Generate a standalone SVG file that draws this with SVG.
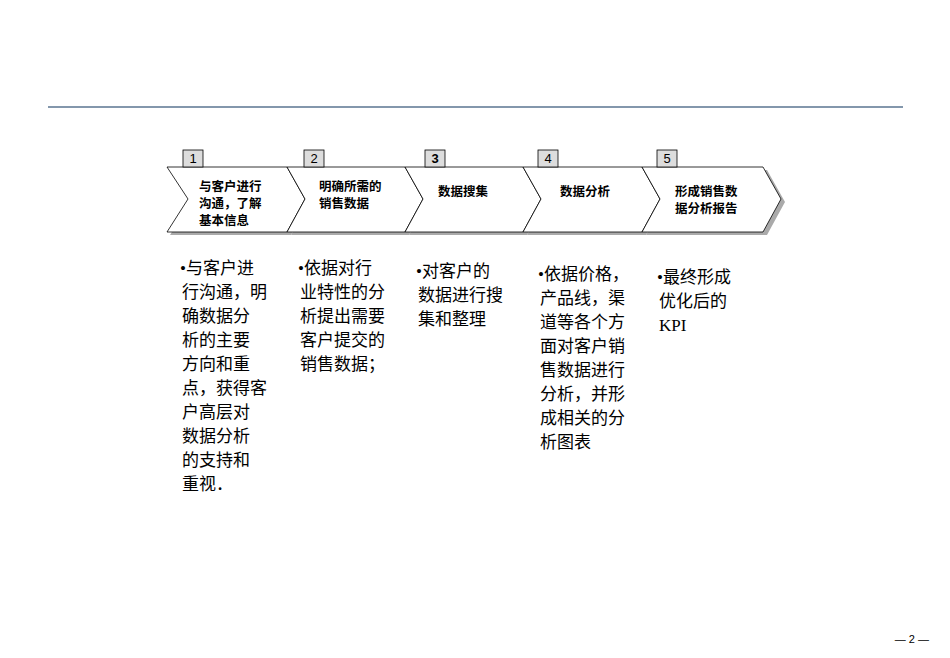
<svg xmlns="http://www.w3.org/2000/svg" width="950" height="658" viewBox="0 0 950 658">
<style>
.chev{fill:#fff;stroke:#000;stroke-width:0.8}
.sh{fill:#aaa}
.nb{fill:#ddd;stroke:#000;stroke-width:0.8}
.num{font-family:"Liberation Sans",Arial,sans-serif;font-size:13px;fill:#000}
.lab{font-family:"Liberation Sans","Noto Sans CJK SC",sans-serif;font-size:12.5px;font-weight:bold;fill:#000}
.body{font-family:"Liberation Serif","Noto Sans CJK SC",serif;font-size:17px;fill:#000}
</style>
<rect width="950" height="658" fill="#fff"/>
<line x1="48" y1="107" x2="903" y2="107" stroke="#5a7590" stroke-width="1.5"/>
<g id="connectors"></g>
<g id="shadows">
<polygon class="sh" points="170,170 291,170 309,202 291,235 170,235 191,202"/>
<polygon class="sh" points="291,170 409,170 427,202 409,235 291,235 309,202"/>
<polygon class="sh" points="409,170 527,170 545,202 527,235 409,235 427,202"/>
<polygon class="sh" points="527,170 646,170 664,202 646,235 527,235 545,202"/>
<polygon class="sh" points="646,170 767,170 785,202 767,235 646,235 664,202"/>
</g>
<g id="step1"><polygon class="chev" points="167,167 287,167 305,199 287,232 167,232 188,199"/><rect class="nb" x="183" y="150" width="20" height="17"/><text class="num" x="193" y="163" text-anchor="middle">1</text>
<text class="lab" x="199" y="191">与客户进行</text><text class="lab" x="199" y="208">沟通，了解</text><text class="lab" x="199" y="225">基本信息</text></g>
<g id="step2"><polygon class="chev" points="287,167 405,167 423,199 405,232 287,232 305,199"/><rect class="nb" x="304" y="150" width="20" height="17"/><text class="num" x="314" y="163" text-anchor="middle">2</text>
<text class="lab" x="319" y="191">明确所需的</text><text class="lab" x="319" y="208">销售数据</text></g>
<g id="step3"><polygon class="chev" points="405,167 523,167 541,199 523,232 405,232 423,199"/><rect class="nb" x="425" y="150" width="20" height="17"/><text class="num" x="435" y="163" text-anchor="middle" font-weight="bold">3</text>
<text class="lab" x="438" y="196">数据搜集</text></g>
<g id="step4"><polygon class="chev" points="523,167 642,167 660,199 642,232 523,232 541,199"/><rect class="nb" x="538" y="150" width="20" height="17"/><text class="num" x="548" y="163" text-anchor="middle">4</text>
<text class="lab" x="560" y="196">数据分析</text></g>
<g id="step5"><polygon class="chev" points="642,167 763,167 781,199 763,232 642,232 660,199"/><rect class="nb" x="657" y="150" width="20" height="17"/><text class="num" x="667" y="163" text-anchor="middle">5</text>
<text class="lab" x="675" y="196">形成销售数</text><text class="lab" x="675" y="213">据分析报告</text></g>
<g id="desc1"><text class="body" x="180" y="274">•与客户进</text><text class="body" x="182" y="298">行沟通，明</text><text class="body" x="182" y="322">确数据分</text><text class="body" x="182" y="346">析的主要</text><text class="body" x="182" y="370">方向和重</text><text class="body" x="182" y="394">点，获得客</text><text class="body" x="182" y="418">户高层对</text><text class="body" x="182" y="442">数据分析</text><text class="body" x="182" y="466">的支持和</text><text class="body" x="182" y="490">重视．</text></g>
<g id="desc2"><text class="body" x="298" y="274">•依据对行</text><text class="body" x="300" y="298">业特性的分</text><text class="body" x="300" y="322">析提出需要</text><text class="body" x="300" y="346">客户提交的</text><text class="body" x="300" y="370">销售数据；</text></g>
<g id="desc3"><text class="body" x="416" y="277">•对客户的</text><text class="body" x="418" y="301">数据进行搜</text><text class="body" x="418" y="325">集和整理</text></g>
<g id="desc4"><text class="body" x="538" y="280">•依据价格，</text><text class="body" x="540" y="304">产品线，渠</text><text class="body" x="540" y="328">道等各个方</text><text class="body" x="540" y="352">面对客户销</text><text class="body" x="540" y="376">售数据进行</text><text class="body" x="540" y="400">分析，并形</text><text class="body" x="540" y="424">成相关的分</text><text class="body" x="540" y="448">析图表</text></g>
<g id="desc5"><text class="body" x="657" y="283">•最终形成</text><text class="body" x="659" y="307">优化后的</text><text class="body" x="659" y="331">KPI</text></g>
<text x="929" y="643" text-anchor="end" font-family="Liberation Sans,sans-serif" font-size="11">— 2 —</text>
</svg>
